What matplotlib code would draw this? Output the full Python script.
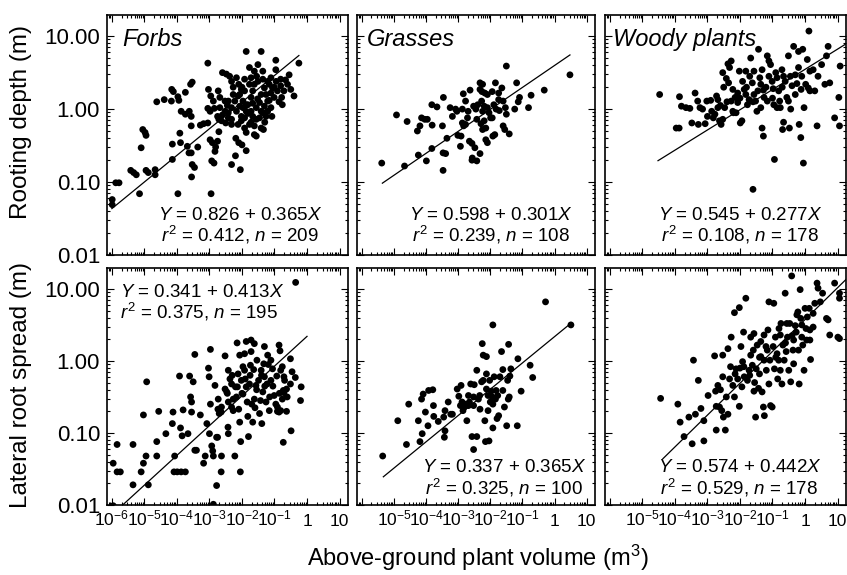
import matplotlib
matplotlib.use('Agg')
import matplotlib.pyplot as plt
from matplotlib.ticker import FixedLocator, FixedFormatter, LogLocator, NullFormatter
import numpy as np

plt.rcParams['font.family'] = ['Liberation Sans', 'DejaVu Sans']
plt.rcParams['mathtext.fontset'] = 'custom'
plt.rcParams['mathtext.rm'] = 'Liberation Sans'
plt.rcParams['mathtext.it'] = 'Liberation Sans:italic'

# --- data (log10 of plant volume, log10 of root size) ---
forbs_depth_lx = [-5.99, -5.99, -5.88, -5.78, -5.42, -5.33, -5.25, -5.15, -5.10, -5.05, -4.98, -4.95, -4.95, -4.88,
                  -4.67, -4.67, -4.62, -4.39, -4.17, -4.16, -4.11, -4.14, -4.14, -3.97, -3.94, -3.97, -3.91, -3.89,
                  -3.87, -3.74, -3.74, -3.62, -3.56, -3.58, -3.53, -3.68, -3.63, -3.56, -3.53, -3.46, -3.55, -3.56,
                  -3.36, -3.28, -3.18, -3.05, -3.05, -2.95, -3.03, -2.96, -2.88, -3.05, -2.98, -2.85, -2.75, -2.98,
                  -2.91, -2.81, -2.75, -2.71, -2.83, -2.93, -2.86, -2.71, -2.63, -2.50, -2.42, -2.32, -2.32, -2.20,
                  -2.05, -2.19, -2.10, -2.00, -1.87, -2.73, -2.68, -2.52, -2.60, -2.48, -2.38, -2.32, -2.17, -2.10,
                  -1.92, -1.87, -1.41, -2.22, -2.07, -1.97, -2.32, -2.42, -2.17, -2.02, -1.87, -1.82, -1.72, -1.67,
                  -1.62, -1.77, -1.62, -1.51, -1.36, -1.72, -1.67, -1.56, -1.46, -1.41, -1.31, -1.21, -1.11, -0.96,
                  -0.96, -0.81, -1.06, -1.11, -1.21, -1.31, -1.36, -1.26, -1.56, -1.62, -1.62, -1.56, -1.41, -1.34,
                  -1.87, -1.77, -1.92, -2.12, -2.02, -0.71, -0.78, -0.76, -0.55, -0.40, -0.25, -0.81, -0.91, -1.01,
                  -0.60, -0.50, -1.11, -1.92, -2.02, -1.77, -2.42, -2.27, -1.72, -1.51, -1.87, -2.07, -1.92, -2.32,
                  -2.52, -2.68, -1.41, -1.21, -1.16, -1.36, -2.27, -2.12, -1.97, -1.82, -1.67, -1.52, -1.46, -1.26,
                  -1.16, -1.01, -0.86, -0.66, -2.45, -2.60, -1.72, -1.30, -2.00, -1.55, -0.95, -1.08]
forbs_depth_ly = [-1.31, -1.24, -1.01, -1.01, -0.84, -0.87, -0.90, -1.16, -0.53, -0.28, -0.32, -0.36, -0.84, -0.87,
                  -0.83, -0.90, 0.10, 0.13, 0.11, 0.27, 0.24, -0.48, -0.69, 0.17, 0.12, -1.16, -0.33, -0.46,
                  -0.03, 0.23, -0.07, -0.03, -0.10, 0.34, 0.37, -0.51, -0.60, -0.60, -0.76, -0.80, -0.93, -0.23,
                  -0.52, -0.22, -0.20, -0.19, 0.63, -1.16, 0.27, 0.18, 0.11, 0.01, -0.03, 0.01, -0.10, -0.42,
                  -0.46, -0.52, -0.44, -0.31, -0.58, -0.71, -0.74, -0.14, -0.16, -0.19, -0.12, -0.14, -0.76, -0.64,
                  -0.83, -0.40, -0.46, -0.49, -0.57, 0.25, 0.16, 0.11, 0.50, 0.48, 0.45, 0.38, 0.43, 0.34,
                  0.41, 0.79, 0.79, 0.11, 0.20, 0.11, 0.02, -0.05, -0.03, -0.10, -0.03, 0.06, 0.16, 0.25,
                  0.34, 0.57, 0.52, 0.61, 0.52, -0.03, -0.10, 0.02, 0.09, 0.20, 0.29, 0.38, 0.43, 0.67,
                  0.54, 0.41, 0.29, 0.22, 0.11, 0.04, -0.05, -0.10, -0.14, -0.23, -0.35, -0.37, -0.26, -0.28,
                  -0.32, -0.21, -0.26, -0.21, -0.16, 0.25, 0.16, 0.06, 0.47, 0.18, 0.63, 0.32, 0.25, 0.16,
                  0.34, 0.27, 0.02, 0.25, 0.27, 0.34, 0.11, 0.20, 0.43, 0.38, 0.06, 0.04, -0.12, -0.21,
                  -0.03, 0.02, -0.03, -0.03, 0.34, 0.41, 0.30, 0.18, 0.02, -0.06, 0.08, 0.14, -0.12, 0.20,
                  0.12, 0.30, 0.10, 0.40, 0.05, -0.08, -0.18, -0.18, 0.30, 0.45, 0.38, -0.10]

grass_depth_lx = [-5.38, -4.67, -4.92, -4.59, -4.24, -3.99, -3.82, -4.27, -4.19, -4.14, -4.04, -3.96, -3.81, -3.82,
                  -3.66, -3.46, -3.49, -3.47, -3.39, -3.47, -3.35, -3.25, -3.18, -3.08, -3.01, -2.91, -2.93, -2.87,
                  -2.83, -2.77, -2.87, -2.84, -2.77, -2.71, -2.63, -2.65, -2.57, -2.48, -2.56, -2.57, -2.32, -2.52,
                  -2.45, -2.42, -2.39, -2.32, -2.32, -2.26, -2.17, -2.24, -2.27, -2.24, -2.19, -2.19, -2.29, -2.24,
                  -2.14, -2.09, -2.04, -1.99, -2.14, -2.09, -1.92, -1.86, -1.94, -1.84, -1.74, -1.89, -1.82, -1.72,
                  -1.74, -1.64, -1.53, -1.50, -1.60, -1.55, -1.41, -1.50, -1.18, -1.13, -1.09, -1.24, -0.81, -0.73,
                  -0.32, 0.48, -2.09, -2.69, -3.04, -2.42, -1.60, -1.94]
grass_depth_ly = [-0.74, -0.78, -0.08, -0.17, -0.63, -0.71, -0.54, -0.30, -0.23, -0.12, -0.14, -0.14, -0.22, 0.06,
                  0.03, 0.16, -0.23, -0.60, -0.61, -0.84, -0.40, 0.02, -0.10, 0.00, -0.36, -0.37, -0.51, -0.19,
                  -0.23, -0.21, 0.00, 0.21, 0.11, -0.12, 0.26, -0.44, -0.47, -0.53, -0.67, -0.70, -0.61, 0.04,
                  0.00, -0.14, 0.06, 0.36, 0.27, 0.24, 0.22, 0.34, 0.11, -0.03, 0.04, -0.16, -0.20, -0.28,
                  -0.26, 0.02, -0.05, -0.12, -0.42, -0.46, -0.37, -0.35, 0.24, 0.36, 0.22, 0.06, 0.00, -0.02,
                  0.13, 0.29, 0.02, -0.07, -0.23, -0.28, -0.34, 0.59, 0.36, 0.10, 0.16, 0.00, 0.02, 0.19,
                  0.26, 0.47, 0.20, -0.03, -0.03, -0.71, 0.11, -0.12]

woody_depth_lx = [-4.47, -3.86, -3.80, -3.66, -3.54, -3.38, -3.30, -3.48, -3.96, -3.87, -3.28, -3.23, -3.07, -2.90,
                  -2.87, -2.82, -2.77, -2.72, -2.68, -2.63, -2.58, -2.53, -2.47, -2.53, -2.42, -2.37, -2.32, -2.27,
                  -2.35, -2.22, -2.15, -2.07, -2.02, -1.99, -1.94, -1.92, -1.87, -1.82, -1.77, -2.12, -2.22, -2.27,
                  -1.67, -1.62, -1.57, -1.52, -1.48, -1.43, -1.39, -1.36, -1.32, -1.28, -1.26, -1.32, -1.28, -1.60,
                  -1.16, -1.11, -1.06, -1.01, -0.98, -0.96, -0.94, -0.86, -0.81, -0.78, -0.71, -0.69, -0.66, -0.61,
                  -0.56, -0.51, -0.48, -0.44, -0.40, -0.35, -0.30, -0.25, -0.20, -0.18, -0.13, -0.12, -0.07, -0.05,
                  -0.03, 0.02, 0.07, 0.12, 0.10, 0.15, 0.25, 0.37, 0.40, 0.51, 0.61, 0.66, 0.71, 0.76,
                  0.91, 1.04, 1.06, 1.08, -1.82, -1.16, -0.76, -1.57, -1.36, -2.07, -1.72, -1.11, -0.51, -0.20,
                  -0.66, -0.86, 0.15, 0.30, -2.68, -3.02, -2.60, -2.40, -2.20, -2.00, -1.80, -1.60, -1.45, -1.20,
                  -1.00, -0.90, -0.70, -0.45, -0.30, -0.10, -1.70, -2.50, -3.00, -3.15]
woody_depth_ly = [0.20, 0.17, 0.04, 0.02, 0.01, 0.22, 0.11, -0.19, -0.26, -0.26, -0.21, 0.02, -0.20, 0.12,
                  -0.03, -0.12, -0.07, 0.18, 0.13, -0.16, -0.21, -0.14, 0.02, 0.50, 0.42, 0.62, 0.57, 0.66,
                  0.36, 0.27, 0.16, 0.09, 0.52, -0.19, -0.16, 0.38, 0.27, 0.20, 0.06, -0.05, -0.03, 0.11,
                  0.70, 0.36, 0.52, 0.11, -0.03, 0.82, 0.43, 0.34, 0.54, 0.26, 0.16, -0.26, -0.37, -1.10,
                  0.73, 0.66, 0.61, 0.38, 0.28, 0.06, -0.69, 0.43, 0.25, 0.11, 0.54, -0.28, -0.18, 0.38,
                  0.16, 0.73, -0.26, 0.00, 0.32, 0.86, 0.47, 0.35, 0.79, -0.21, -0.39, 0.27, 0.82, -0.74,
                  0.02, 0.34, 0.68, 1.07, 0.29, 0.25, 0.54, -0.23, 0.45, 0.61, 0.34, 0.73, 0.86, 0.36,
                  -0.12, 0.16, -0.23, 0.59, 0.52, 0.11, 0.02, 0.20, 0.02, 0.22, 0.13, 0.45, 0.11, 0.57,
                  0.45, 0.02, 0.52, 0.25, 0.02, 0.11, 0.05, 0.10, -0.05, 0.15, 0.30, 0.10, 0.25, 0.30,
                  0.15, 0.50, 0.30, 0.45, 0.20, 0.45, 0.45, 0.30, -0.10, 0.00]

forbs_spread_lx = [-5.96, -5.84, -5.84, -5.74, -5.96, -5.35, -5.35, -5.10, -5.03, -4.95, -4.88, -5.03, -4.93, -4.62,
                   -4.62, -4.56, -4.34, -4.14, -4.12, -4.07, -4.09, -3.99, -3.87, -3.74, -3.89, -3.84, -3.81, -3.92,
                   -3.66, -3.61, -3.58, -3.55, -3.55, -3.50, -3.45, -3.45, -3.40, -3.28, -3.18, -3.13, -3.08, -3.03,
                   -3.01, -2.97, -2.97, -3.00, -2.93, -2.90, -2.88, -2.88, -2.83, -2.78, -2.75, -2.74, -2.70, -2.64,
                   -2.63, -2.64, -2.78, -2.63, -2.52, -2.52, -2.47, -2.43, -2.42, -2.37, -2.32, -2.42, -2.32, -2.27,
                   -2.22, -2.20, -2.17, -2.15, -2.12, -2.10, -2.07, -2.05, -2.04, -2.02, -1.97, -1.92, -1.87, -1.87,
                   -1.84, -1.82, -1.80, -1.77, -1.74, -1.72, -1.70, -1.67, -1.64, -1.62, -1.57, -1.54, -1.49, -1.46,
                   -1.43, -1.41, -1.39, -1.36, -1.33, -1.31, -1.26, -1.23, -1.19, -1.16, -1.11, -1.06, -1.01, -0.96,
                   -0.93, -0.91, -0.86, -0.83, -0.81, -0.76, -0.76, -0.73, -0.71, -0.73, -0.91, -0.86, -0.81, -0.69,
                   -0.63, -0.61, -0.51, -0.49, -0.46, -0.36, -0.20, -0.18, -0.35, -0.71, -0.63, -2.14, -1.97, -2.27,
                   -2.42, -2.73, -2.07, -1.62, -1.72, -1.92, -1.21, -1.31, -1.11, -0.51, -2.30, -2.00, -1.75, -1.55,
                   -1.30, -1.05, -0.85, -1.60, -2.45, -1.90, -1.40, -1.15]
forbs_spread_ly = [-1.42, -1.16, -1.54, -1.54, -2.01, -1.16, -1.72, -1.54, -1.42, -1.32, -1.72, -0.75, -0.29, -1.32,
                   -1.12, -0.70, -1.01, -0.87, -0.71, -1.32, -1.54, -1.54, -1.54, -1.54, -0.93, -1.04, -0.68, -0.21,
                   -1.01, -0.21, -0.50, -0.57, -0.71, -0.29, 0.09, -1.24, -1.24, -0.75, -1.42, -1.32, -0.87, -0.10,
                   -0.22, 0.16, -0.60, -1.01, -1.18, -1.25, -1.32, -1.99, -0.34, -1.06, -1.06, -0.67, -0.73, -0.71,
                   -1.32, -1.54, -1.73, -0.64, 0.07, -0.39, -0.43, -0.92, -0.13, -0.25, -0.32, -1.01, -0.64, -0.69,
                   -1.32, -0.36, -0.50, 0.25, -0.18, -0.67, -0.85, -1.54, -1.12, -0.27, -0.08, -0.13, 0.27, -0.36,
                   -0.57, -0.77, -1.05, -0.32, -0.06, 0.13, -0.60, -0.85, -0.12, -0.53, -0.34, 0.01, -0.27, -0.73,
                   -0.55, -0.13, -0.87, -0.43, -0.04, -0.22, -0.57, -0.32, -0.05, -0.69, -0.27, -0.11, -0.48, -0.60,
                   -0.21, -0.64, 0.22, 0.14, -0.13, -0.08, -0.53, -0.41, -0.22, -1.13, -0.70, -0.71, -0.69, -0.27,
                   -0.39, -0.50, -0.32, -0.97, -0.15, -0.23, -0.55, -0.36, 1.09, -0.44, -0.70, -0.36, -0.46, -0.53,
                   -0.57, -0.53, 0.08, 0.24, 0.29, 0.10, 0.08, 0.20, 0.01, 0.03, -0.20, -0.45, -0.20, -0.40,
                   -0.35, -0.35, -0.45, -0.65, -0.45, -0.25, -0.20, -0.50]

grass_spread_lx = [-5.35, -4.61, -4.88, -4.54, -4.24, -4.14, -4.09, -4.19, -4.12, -4.02, -3.94, -3.92, -3.79, -3.77,
                   -3.76, -3.62, -3.43, -3.41, -3.45, -3.41, -3.31, -3.23, -3.18, -3.03, -2.98, -2.91, -2.93, -2.85,
                   -2.81, -2.78, -2.73, -2.68, -2.65, -2.61, -2.57, -2.52, -2.52, -2.50, -2.42, -2.42, -2.37, -2.33,
                   -2.27, -2.25, -2.22, -2.17, -2.15, -2.12, -2.12, -2.07, -2.04, -2.07, -2.02, -2.00, -1.97, -1.94,
                   -1.92, -1.92, -1.88, -1.84, -1.82, -1.79, -1.74, -1.77, -1.70, -1.65, -1.61, -1.56, -1.49, -1.46,
                   -1.44, -1.43, -1.41, -1.39, -1.36, -1.16, -1.14, -1.04, -0.76, -0.68, -0.28, 0.51, -2.22, -2.32,
                   -2.68, -1.92, -1.61, -2.12, -2.52, -2.88]
grass_spread_ly = [-1.32, -1.16, -0.83, -0.60, -0.83, -0.53, -0.46, -1.12, -1.01, -0.71, -0.90, -0.41, -0.40, -0.62,
                   -0.77, -0.84, -1.06, -0.97, -0.78, -0.69, -0.57, -0.74, -0.74, -0.39, -0.49, -0.34, -0.62, -0.69,
                   -0.64, -0.60, -0.83, -0.62, -0.57, -0.32, -1.05, -1.23, -0.50, -0.33, -0.13, -1.05, -0.53, -0.48,
                   -0.29, 0.24, 0.08, -0.83, -1.12, 0.06, -0.39, -0.48, -1.11, -0.69, -0.27, -0.57, -0.42, -0.50,
                   0.50, -0.93, -0.22, -0.53, -0.41, -0.80, -0.76, -0.48, -0.22, 0.13, -0.12, -0.64, -0.90, -0.27,
                   -0.53, 0.23, -0.50, -0.21, -0.11, -0.90, 0.03, -0.42, -0.06, -0.23, 0.82, 0.50, -0.27, -0.67,
                   -0.48, -0.60, -0.41, -0.18, -0.62, -0.57]

woody_spread_lx = [-4.44, -3.91, -3.84, -3.72, -3.57, -3.43, -3.47, -3.37, -3.28, -3.20, -3.11, -3.11, -2.98, -2.78,
                   -2.75, -2.73, -2.73, -2.68, -2.63, -2.56, -2.53, -2.53, -2.51, -2.45, -2.42, -2.37, -2.37, -2.32,
                   -2.29, -2.27, -2.22, -2.17, -2.15, -2.12, -2.07, -2.02, -2.02, -1.97, -1.94, -1.92, -1.89, -1.88,
                   -1.82, -1.77, -1.72, -1.67, -1.62, -1.59, -1.57, -1.52, -1.50, -1.47, -1.43, -1.40, -1.36, -1.32,
                   -1.28, -1.26, -1.26, -1.25, -1.19, -1.14, -1.11, -1.11, -1.08, -1.06, -1.01, -0.98, -0.96, -0.94,
                   -0.91, -0.86, -0.84, -0.81, -0.76, -0.74, -0.71, -0.68, -0.64, -0.61, -0.58, -0.54, -0.50, -0.47,
                   -0.44, -0.41, -0.37, -0.35, -0.30, -0.27, -0.25, -0.22, -0.18, -0.15, -0.13, -0.10, -0.07, -0.03,
                   0.00, 0.03, 0.07, 0.13, 0.15, 0.17, 0.25, 0.37, 0.40, 0.47, 0.54, 0.66, 0.71, 0.76,
                   0.91, 1.01, 1.06, 1.06, 1.06, -1.67, -1.87, -2.17, -1.36, -1.16, -0.56, -0.76, -0.35, -0.20,
                   0.05, 0.15, 0.25, -1.57, -2.00, -1.70, -1.40, -1.20, -0.90, -0.60, -0.40, -0.10, -2.60, -1.55,
                   -0.80, 0.30]
woody_spread_ly = [-0.52, -0.60, -0.85, -1.05, -0.78, 0.01, -1.15, -0.74, -0.27, -0.66, -0.83, -1.11, -0.48, 0.07,
                   -0.42, -0.63, -0.96, -0.34, -0.64, -0.69, 0.08, -0.22, -0.78, -0.96, -0.50, 0.17, -0.74, -0.25,
                   -0.08, 0.33, -0.34, 0.67, -0.18, -0.11, -0.25, -0.63, 0.74, 0.20, -0.36, -0.01, 0.40, -0.08,
                   0.87, -0.27, -0.13, 0.08, -0.06, 0.15, -0.42, -0.78, -0.11, 0.22, -0.38, -0.18, 0.27, -0.43,
                   -0.64, 0.36, 0.01, -0.76, -0.13, 0.43, 0.82, -0.32, 0.01, -0.62, -0.64, 0.20, 0.80, -0.11,
                   0.33, 0.10, -0.25, 0.01, 0.36, 0.52, -0.32, 0.22, 0.01, 0.94, 0.13, 0.33, -0.13, 0.52,
                   -0.29, 1.18, 0.15, 0.29, 0.49, 0.40, 0.64, 0.68, -0.32, 0.99, 0.59, 0.33, 0.22, -0.13,
                   0.73, 0.45, 0.61, 0.73, 0.43, 0.02, 0.66, 1.08, 1.01, 0.82, 0.94, 0.59, 0.57, 0.36,
                   1.08, 0.33, 0.31, 0.87, 0.94, 0.33, -0.22, -0.50, 0.06, 0.15, 0.52, -0.13, -0.04, 0.15,
                   0.29, 0.29, 0.47, 0.38, -0.10, -0.20, 0.05, 0.20, 0.05, 0.25, 0.35, 0.50, -0.40, -0.30,
                   0.45, 0.80]

titles = ['Forbs', 'Grasses', 'Woody plants']
intercepts = [0.826, 0.598, 0.545, 0.341, 0.337, 0.574]
slopes = [0.365, 0.301, 0.277, 0.413, 0.365, 0.442]
r_squared = [0.412, 0.239, 0.108, 0.375, 0.325, 0.529]
n_obs = [209, 108, 178, 195, 100, 178]
# extent of each fitted line (log10 volume)
fit_lo = [-6.0, -5.36, -4.52, -6.0, -5.33, -4.37]
fit_hi = [-0.25, 0.48, 1.4, 0.0, 0.52, 1.4]

xtick_pow = [-6, -5, -4, -3, -2, -1, 0, 1]
xtick_labels = ['$10^{-6}$', '$10^{-5}$', '$10^{-4}$', '$10^{-3}$', '$10^{-2}$', '$10^{-1}$', '1', '10']
ytick_vals = [0.01, 0.1, 1, 10]
ytick_labels = ['0.01', '0.10', '1.00', '10.00']

data = [(forbs_depth_lx, forbs_depth_ly), (grass_depth_lx, grass_depth_ly), (woody_depth_lx, woody_depth_ly),
        (forbs_spread_lx, forbs_spread_ly), (grass_spread_lx, grass_spread_ly), (woody_spread_lx, woody_spread_ly)]

W, H = 847, 575
fig = plt.figure(figsize=(W / 100, H / 100), dpi=100)

col_left = [107, 357, 605]
col_w = [241, 238, 241]
row_top = [15, 268]
row_h = [240, 237]

# annotation placement (axes fraction): x, y line1, y line2, ha
ann_pos = [(0.552, 0.146, 0.058, 'center'), (0.563, 0.146, 0.058, 'center'), (0.562, 0.146, 0.058, 'center'),
           (0.054, 0.878, 0.789, 'left'), (0.618, 0.139, 0.046, 'center'), (0.558, 0.139, 0.046, 'center')]
title_x = [0.062, 0.042, 0.033]

for i in range(6):
    r, c = divmod(i, 3)
    rect = [col_left[c] / W, 1 - (row_top[r] + row_h[r]) / H, col_w[c] / W, row_h[r] / H]
    ax = fig.add_axes(rect)
    ax.set_xscale('log')
    ax.set_yscale('log')

    lx, ly = data[i]
    ax.scatter(10 ** np.array(lx), 10 ** np.array(ly), s=24, c='black', edgecolors='none', zorder=3)
    xf = np.linspace(fit_lo[i], fit_hi[i], 50)
    ax.plot(10 ** xf, 10 ** (intercepts[i] + slopes[i] * xf), color='black', lw=0.9, zorder=2)

    ax.set_xlim(10 ** -6.15, 10 ** 1.26)
    ax.set_ylim(0.01, 19.5)

    ax.xaxis.set_major_locator(FixedLocator([10.0 ** p for p in xtick_pow]))
    ax.xaxis.set_minor_locator(LogLocator(base=10, subs=np.arange(2, 10), numticks=100))
    ax.xaxis.set_minor_formatter(NullFormatter())
    ax.yaxis.set_major_locator(FixedLocator(ytick_vals))
    ax.yaxis.set_minor_locator(LogLocator(base=10, subs=np.arange(2, 10), numticks=100))
    ax.yaxis.set_minor_formatter(NullFormatter())

    ax.tick_params(which='both', direction='in', top=True, right=True, width=0.8)
    ax.tick_params(which='major', length=5)
    ax.tick_params(which='minor', length=2.5)

    if r == 1:
        labs = list(xtick_labels)
        if c > 0:
            labs[0] = ''
        ax.xaxis.set_major_formatter(FixedFormatter(labs))
        ax.tick_params(axis='x', labelsize=12.5, pad=15)
        for t in ax.get_xticklabels():
            t.set_verticalalignment('baseline')
    else:
        ax.tick_params(axis='x', labelbottom=False)

    if c == 0:
        ax.yaxis.set_major_formatter(FixedFormatter(ytick_labels))
        ax.tick_params(axis='y', labelsize=16, pad=5)
    else:
        ax.tick_params(axis='y', labelleft=False)

    for sp in ax.spines.values():
        sp.set_linewidth(1.2)

    if r == 0:
        ax.text(title_x[c], 0.872, titles[c], transform=ax.transAxes, fontsize=17,
                style='italic', ha='left', va='baseline')

    px, py1, py2, ha = ann_pos[i]
    ax.text(px, py1, f'$\\it{{Y}}$ = {intercepts[i]:.3f} + {slopes[i]:.3f}$\\it{{X}}$',
            transform=ax.transAxes, fontsize=13.5, ha=ha, va='baseline')
    ax.text(px, py2, f'$\\it{{r}}^2$ = {r_squared[i]:.3f}, $\\it{{n}}$ = {n_obs[i]}',
            transform=ax.transAxes, fontsize=13.5, ha=ha, va='baseline')

fig.text(0.025, 1 - 122 / H, 'Rooting depth (m)', rotation=90, fontsize=17.5, ha='center', va='center')
fig.text(0.025, 1 - 385 / H, 'Lateral root spread (m)', rotation=90, fontsize=17.5, ha='center', va='center')
fig.text(478 / W, 1 - 558 / H, 'Above-ground plant volume (m$^3$)', fontsize=17, ha='center', va='center')

fig.savefig('out.png', dpi=100)
